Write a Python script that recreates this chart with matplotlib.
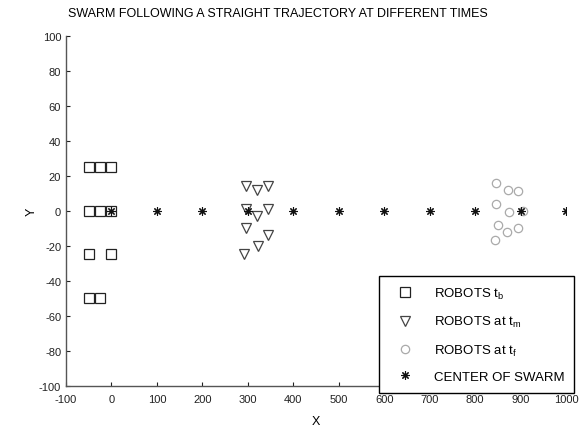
import numpy as np
import matplotlib
matplotlib.use('Agg')
import matplotlib.pyplot as plt

# robots at beginning (squares)
sq_x = [-50, -25, 0, -50, -25, 0, -50, 0, -50, -25]
sq_y = [25, 25, 25, 0, 0, 0, -25, -25, -50, -50]

# robots at t_m (triangles)
tri_x = [297, 320, 345, 297, 320, 345, 297, 345, 322, 292]
tri_y = [14, 12, 14, 1, -3, 1, -10, -14, -20, -25]

# robots at t_f (circles)
circ_x = [847, 873, 895, 847, 875, 905, 851, 870, 895, 843]
circ_y = [16, 12, 11, 4, -1, 0, -8, -12, -10, -17]

# center of swarm
cen_x = [0, 100, 200, 300, 400, 500, 600, 700, 800, 900, 1000]
cen_y = [0, 0, 0, 0, 0, 0, 0, 0, 0, 0, 0]

xticks = np.arange(-100, 1001, 100)
yticks = np.arange(-100, 101, 20)

plt.rcParams['font.family'] = ['Liberation Sans', 'DejaVu Sans']
plt.rcParams['axes.unicode_minus'] = False

fig = plt.figure(figsize=(5.84, 4.27), dpi=100)
ax = fig.add_axes([66/584, 1-386.7/427, 500/584, 350/427])

ax.plot(sq_x, sq_y, 's', ls='none', mfc='none', mec='#222222', ms=6.8, mew=0.9,
        label=r'ROBOTS t$\mathregular{_b}$')
ax.plot(tri_x, tri_y, 'v', ls='none', mfc='none', mec='#444444', ms=7, mew=0.9,
        label=r'ROBOTS at t$\mathregular{_m}$')
ax.plot(circ_x, circ_y, 'o', ls='none', mfc='none', mec='#aaaaaa', ms=6, mew=0.9,
        label=r'ROBOTS at t$\mathregular{_f}$')
ax.plot(cen_x, cen_y, ls='none', marker=(8, 2, 0), color='#111111', ms=6, mew=0.8,
        label='CENTER OF SWARM')

ax.set_xlim(-100, 1000)
ax.set_ylim(-100, 100)
ax.set_xticks(xticks)
ax.set_yticks(yticks)
ax.tick_params(direction='in', length=3, labelsize=8, colors='#222222')
ax.tick_params(axis='x', pad=6)
for s in ['top', 'right']:
    ax.spines[s].set_visible(False)
for s in ['left', 'bottom']:
    ax.spines[s].set_color('#555555')
    ax.spines[s].set_linewidth(1.0)

ax.set_xlabel('X', fontsize=9, labelpad=8)
ax.set_ylabel('Y', fontsize=9, labelpad=1)
fig.text(278/584, 1-14/427, 'SWARM FOLLOWING A STRAIGHT TRAJECTORY AT DIFFERENT TIMES',
         ha='center', va='center', fontsize=9)

leg = ax.legend(loc='upper left', bbox_to_anchor=(379/584, 1-277/427),
                bbox_transform=fig.transFigure, fontsize=9.5, frameon=True,
                fancybox=False, edgecolor='black', borderaxespad=0, framealpha=1,
                labelspacing=1.0, handletextpad=1.0, borderpad=0.75, handlelength=2.4)
leg.get_frame().set_linewidth(1.0)

fig.savefig('out.png', dpi=100)
